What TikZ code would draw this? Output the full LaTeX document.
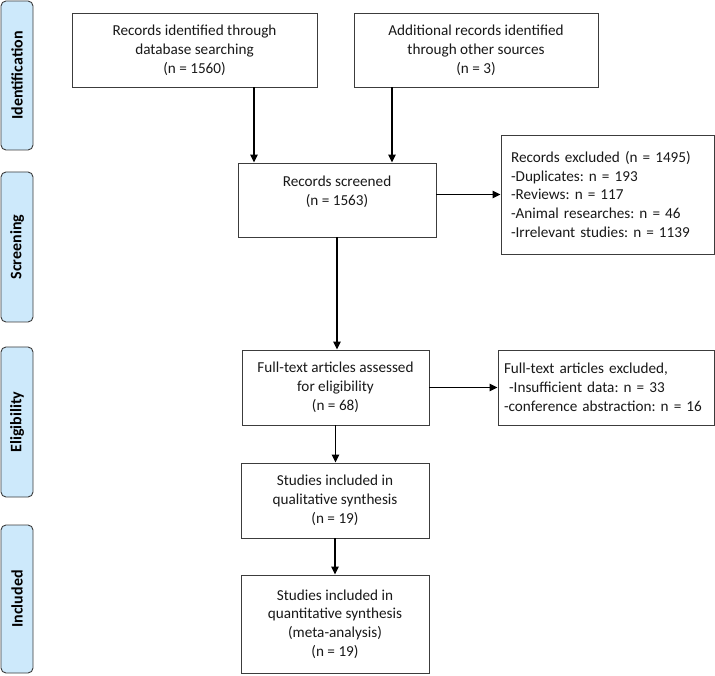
\documentclass[tikz,border=0pt]{standalone}
\usepackage{fontspec}
\setmainfont{Carlito}
\usetikzlibrary{arrows.meta,calc}
\definecolor{phase}{RGB}{205,233,251}
\definecolor{edge}{RGB}{60,60,60}
\frenchspacing
\begin{document}
\begin{tikzpicture}[x=1pt,y=-1pt,
  box/.style={draw=edge,line width=0.9pt,fill=white,inner sep=0pt,align=center,
    font=\frenchspacing\fontsize{15.2}{18.8}\selectfont,text=black!90},
  lbox/.style={box,align=left},
  phasebox/.style={draw=edge,line width=0.9pt,fill=phase,rounded corners=5pt,
    inner sep=0pt,minimum width=32pt,font=\bfseries\fontsize{16}{19}\selectfont},
  arr/.style={line width=1.4pt,-{Triangle[length=8pt,width=7.5pt]}}]
\useasboundingbox (0,0) rectangle (715,676);
\fill[white] (0,0) rectangle (715,676);
% phase labels
\node[phasebox,minimum height=149pt] (pid) at (17,75.5) {\rotatebox{90}{Identification}};
\node[phasebox,minimum height=150pt] (psc) at (17,247) {\rotatebox{90}{Screening}};
\node[phasebox,minimum height=150pt] (pel) at (17,422) {\rotatebox{90}{Eligibility}};
\node[phasebox,minimum height=148pt] (pin) at (17,599) {\rotatebox{90}{Included}};
% boxes
\node[box,minimum width=245pt,minimum height=74pt] (db) at (194.5,50)
  {Records identified through\\database searching\\(n = 1560)};
\node[box,minimum width=244pt,minimum height=74pt] (oth) at (476,50)
  {Additional records identified\\through other sources\\(n = 3)};
\node[box,minimum width=198pt,minimum height=74pt] (scr) at (337,200)
  {Records screened\\(n = 1563)\\\mbox{}};
\node[lbox,minimum width=213pt,minimum height=119pt,text width=193pt] (ex1) at (607.5,194.5)
  {Records excluded (n = 1495)\\-Duplicates: n = 193\\-Reviews: n = 117\\-Animal researches: n = 46\\-Irrelevant studies: n = 1139};
\node[box,minimum width=187pt,minimum height=75pt] (full) at (335.5,387.5)
  {Full-text articles assessed\\for eligibility\\(n = 68)};
\node[lbox,minimum width=216pt,minimum height=75pt,text width=204pt] (ex2) at (606,387.5)
  {Full-text articles excluded,\\\ -Insufficient data: n = 33\\-conference abstraction: n = 16};
\node[box,minimum width=188pt,minimum height=75pt] (qual) at (335,500.5)
  {Studies included in\\qualitative synthesis\\(n = 19)};
\node[box,minimum width=188pt,minimum height=98pt] (quan) at (335,624)
  {Studies included in\\quantitative synthesis\\(meta-analysis)\\(n = 19)};
% connectors
\coordinate (a1) at (254,0);
\coordinate (a2) at (392,0);
\draw[arr] (db.south -| a1) -- (scr.north -| a1);
\draw[arr] (oth.south -| a2) -- (scr.north -| a2);
\draw[arr] (ex1.west -| scr.east) -- (ex1.west);
\draw[arr] (scr.south) -- (scr.south |- full.north);
\draw[arr] (full.east) -- (ex2.west);
\draw[arr] (full.south) -- (full.south |- qual.north);
\draw[arr] (qual.south) -- (qual.south |- quan.north);
\end{tikzpicture}
\end{document}
